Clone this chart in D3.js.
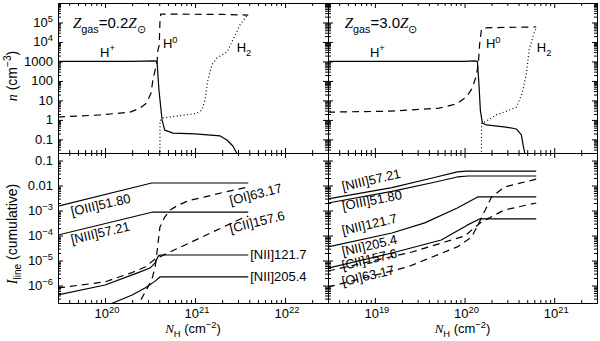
<!DOCTYPE html>
<html>
<head>
<meta charset="utf-8">
<script src="https://cdn.jsdelivr.net/npm/d3@7"></script>
<style>
body{margin:0;background:#fff;}
svg{font-family:"Liberation Sans",Arial,sans-serif;}
</style>
</head>
<body>
<svg id="chart" width="600" height="341"></svg>
<script>
// ---- data: [N_H (cm^-2), value] ----
// densities, Z = 0.2 Zsun
const hPlusLow = [[3e19,1000],[1e20,1000],[2e20,1020],[3.5e20,1080],[3.78e20,1000],[3.97e20,34],[4.3e20,1.0],[4.6e20,0.3],[5.7e20,0.21],[1.0e21,0.19],[1.9e21,0.15],[2.26e21,0.093],[2.63e21,0.046],[3.0e21,0.015]];
const h0Low = [[3e19,1.4],[8.8e19,1.8],[1.9e20,2.5],[2.44e20,4],[2.9e20,7.4],[3.24e20,24],[3.4e20,112],[3.78e20,1000],[3.87e20,3900],[4.0e20,6900],[4.07e20,1e5],[4.15e20,2.7e5],[2e21,2.6e5],[3.9e21,2.4e5]];
const h2Low = [[4.07e20,0.01],[4.08e20,0.9],[4.4e20,1.25],[1.05e21,2.2],[1.19e21,3.2],[1.29e21,10.5],[1.39e21,112],[1.54e21,660],[1.75e21,1500],[2.26e21,3000],[2.63e21,1.26e4],[3.15e21,7.4e4],[3.8e21,2.4e5]];
// densities, Z = 3.0 Zsun
const hPlusHigh = [[3e18,1000],[1e19,1000],[1e20,1020],[1.3e20,1070],[1.39e20,1000],[1.45e20,60],[1.5e20,3.2],[1.58e20,0.69],[1.75e20,0.55],[2.9e20,0.43],[3.8e20,0.34],[4.3e20,0.17],[4.5e20,0.051],[4.8e20,0.012]];
const h0High = [[3e18,2.5],[1.47e19,2.8],[5.2e19,4],[8.1e19,6.6],[1.05e20,15],[1.22e20,43],[1.36e20,200],[1.43e20,1000],[1.47e20,6900],[1.54e20,4e4],[1.6e20,5.3e4],[3e20,5.6e4],[6.3e20,5.9e4]];
const h2High = [[1.54e20,0.01],[1.55e20,0.69],[1.7e20,0.8],[2.26e20,1.8],[3.16e20,3.2],[3.8e20,4.6],[4.4e20,24],[4.9e20,250],[5.25e20,3900],[6.0e20,3.2e4],[6.4e20,5.9e4]];

// cumulative line intensities, Z = 0.2 Zsun
const oiiiLow = [[3e19,1.5e-3],[3.3e20,0.0126],[3.9e21,0.0126]];
const niiiLow = [[3e19,1.05e-4],[3.4e20,8.7e-4],[3.9e21,8.7e-4]];
const oiLow = [[2.2e20,1e-7],[2.57e20,3.2e-7],[3.3e20,1.66e-6],[3.6e20,5.5e-6],[3.78e20,2.2e-5],[4.07e20,2.2e-4],[4.6e20,5.5e-4],[5.3e20,1.05e-3],[6.5e20,1.66e-3],[8.8e20,2.6e-3],[1.29e21,3.5e-3],[2.15e21,5.5e-3],[3.9e21,8.7e-3]];
const ciiLow = [[3e19,8e-7],[1e20,1.4e-6],[2.0e20,3.3e-6],[2.78e20,5.5e-6],[3.6e20,1.15e-5],[3.2e21,4.6e-4],[3.9e21,6e-4]];
const nii122Low = [[3e19,4.2e-7],[1e20,1.05e-6],[2.3e20,3.2e-6],[3.16e20,5e-6],[3.6e20,8e-6],[3.9e20,1.5e-5],[4.1e20,1.66e-5],[3.9e21,1.66e-5]];
const nii205Low = [[9e19,1.3e-7],[1.22e20,2e-7],[2.0e20,4.2e-7],[2.78e20,8e-7],[3.6e20,1.5e-6],[4.07e20,2.2e-6],[3.9e21,2.2e-6]];
// cumulative line intensities, Z = 3.0 Zsun
const oiiiHigh = [[3e18,2e-3],[1.55e19,5.8e-3],[4.6e19,0.0135],[8.3e19,0.022],[1.1e20,0.024],[6.3e20,0.024]];
const niiiHigh = [[3e18,2.9e-3],[1.55e19,8.3e-3],[4.6e19,0.021],[8.3e19,0.035],[1.05e20,0.038],[6.3e20,0.038]];
const oiHigh = [[3e18,8.7e-7],[2.3e19,5.5e-6],[8.3e19,3.5e-5],[1.2e20,8.7e-5],[1.54e20,5e-4],[2.0e20,3.5e-3],[2.78e20,8.7e-3],[6.3e20,0.018]];
const ciiHigh = [[3e18,3.8e-6],[2.6e19,2.2e-5],[6e19,5.5e-5],[1e20,9.5e-5],[1.54e20,3.5e-4],[2.78e20,1.05e-3],[6.3e20,2e-3]];
const nii122High = [[3e18,3.5e-5],[1.55e19,1.26e-4],[3.6e19,3.2e-4],[8.3e19,1.26e-3],[1.4e20,3.5e-3],[6.3e20,3.5e-3]];
const nii205High = [[3e18,5e-6],[1.55e19,2e-5],[5.5e19,6.6e-5],[1.07e20,2.6e-4],[1.47e20,4.6e-4],[6.3e20,4.6e-4]];

// labels
const lineNames = ['[OIII]51.80','[NIII]57.21','[OI]63.17','[CII]157.6','[NII]121.7','[NII]205.4'];
const metallicities = ['0.2','3.0'];
const nTicks = [0.1,1,10,100,1000,1e4,1e5];
const nTickText = [['0.1'],['1'],['10'],['100'],['1000'],['10','4'],['10','5']];
const iTicks = [1e-6,1e-5,1e-4,1e-3,0.01,0.1];
const iTickText = [['10','\u22126'],['10','\u22125'],['10','\u22124'],['10','\u22123'],['0.01'],['0.1']];
const xTicksLow = [1e20,1e21,1e22];
const xTicksHigh = [1e19,1e20,1e21];
const xTickText = v => [['10', String(Math.round(Math.log10(v)))]];

// ---- layout ----
const svg = d3.select('#chart');
const L = 58, M = 328, R = 597, T = 3, MID = 153, B = 303;
const FS = 13;

const xLow = d3.scaleLog().domain([3e19,3e22]).range([L,M]);
const xHigh = d3.scaleLog().domain([3e18,3e21]).range([M,R]);
const yN = d3.scaleLog().domain([0.02,1e6]).range([MID,T]);
const yI = d3.scaleLog().domain([2e-7,0.2]).range([B,MID]);

function logTicks(domain){
	const maj = [], min = [];
	const k0 = Math.floor(Math.log10(domain[0])), k1 = Math.ceil(Math.log10(domain[1]));
	for(let k=k0;k<=k1;k++){
		for(let m=1;m<=9;m++){
			const v = m*Math.pow(10,k);
			if(v>=domain[0]*0.999 && v<=domain[1]*1.001){ (m===1?maj:min).push(v); }
		}
	}
	return {maj, min};
}

// text with sub/superscripts: parts = [text, mode(1 sup,-1 sub), italic]
function rich(sel, parts, size){
	let shift = 0;
	parts.forEach(p => {
		const [t, m, it] = p;
		const target = m===1 ? -0.42*size : m===-1 ? 0.3*size : 0;
		const ts = sel.append('tspan')
			.attr('dy', target-shift)
			.attr('font-size', m ? size*0.72 : size)
			.text(t);
		if(it){ ts.attr('font-style','italic').attr('font-family','"Liberation Serif",serif'); }
		shift = target;
	});
	return sel;
}

function drawAxes(x, y){
	const tx = logTicks(x.domain()), ty = logTicks(y.domain());
	const defs = [
		[d3.axisBottom, x, tx, `translate(0,${y.range()[0]})`],
		[d3.axisTop, x, tx, `translate(0,${y.range()[1]})`],
		[d3.axisLeft, y, ty, `translate(${x.range()[0]},0)`],
		[d3.axisRight, y, ty, `translate(${x.range()[1]},0)`]
	];
	defs.forEach(([axisFn, sc, t, tr]) => {
		[[t.maj,-5],[t.min,-3]].forEach(([vals,size]) => {
			svg.append('g')
				.attr('transform', tr)
				.call(axisFn(sc).tickValues(vals).tickSize(size).tickSizeOuter(0).tickFormat(''))
				.call(g => g.selectAll('text').remove())
				.call(g => g.selectAll('line,path').attr('stroke','#000').attr('stroke-width',1));
		});
	});
}

const styles = {
	solid: {dash: null, w: 1.2},
	dash: {dash: '7,5', w: 1.2},
	dot: {dash: '1,2.5', w: 1.2}
};

let clipId = 0;
function drawSeries(x, y, list){
	const id = 'clip' + (clipId++);
	svg.append('clipPath').attr('id', id)
		.append('rect')
		.attr('x', x.range()[0]).attr('y', y.range()[1])
		.attr('width', x.range()[1]-x.range()[0])
		.attr('height', y.range()[0]-y.range()[1]);
	const line = d3.line().x(d => x(d[0])).y(d => y(d[1]));
	const g = svg.append('g').attr('clip-path', `url(#${id})`);
	list.forEach(([data, st]) => {
		g.append('path')
			.attr('d', line(data))
			.attr('fill','none')
			.attr('stroke','#000')
			.attr('stroke-width', styles[st].w)
			.attr('stroke-dasharray', styles[st].dash)
			.attr('stroke-linejoin','round');
	});
}

// ---- panels ----
drawSeries(xLow, yN, [[hPlusLow,'solid'],[h0Low,'dash'],[h2Low,'dot']]);
drawSeries(xHigh, yN, [[hPlusHigh,'solid'],[h0High,'dash'],[h2High,'dot']]);
drawSeries(xLow, yI, [[oiiiLow,'solid'],[niiiLow,'solid'],[oiLow,'dash'],[ciiLow,'dash'],[nii122Low,'solid'],[nii205Low,'solid']]);
drawSeries(xHigh, yI, [[oiiiHigh,'solid'],[niiiHigh,'solid'],[oiHigh,'dash'],[ciiHigh,'dash'],[nii122High,'solid'],[nii205High,'solid']]);

drawAxes(xLow, yN);
drawAxes(xHigh, yN);
drawAxes(xLow, yI);
drawAxes(xHigh, yI);

// y tick labels (left column only)
nTicks.forEach((v,i) => {
	const parts = nTickText[i].map((t,j) => [t, j ? 1 : 0]);
	rich(svg.append('text').attr('x', L-5).attr('y', yN(v)+4.5).attr('text-anchor','end'), parts, FS);
});
iTicks.forEach((v,i) => {
	const parts = iTickText[i].map((t,j) => [t, j ? 1 : 0]);
	rich(svg.append('text').attr('x', L-5).attr('y', yI(v)+4.5).attr('text-anchor','end'), parts, FS);
});

// x tick labels
[[xLow,xTicksLow],[xHigh,xTicksHigh]].forEach(([x,ticks]) => {
	ticks.forEach(v => {
		const parts = xTickText(v)[0].map((t,j) => [t, j ? 1 : 0]);
		rich(svg.append('text').attr('x', x(v)+2).attr('y', 318).attr('text-anchor','middle'), parts, FS);
	});
	rich(svg.append('text')
		.attr('x', (x.range()[0]+x.range()[1])/2).attr('y', 333).attr('text-anchor','middle'),
		[['N',0,true],['H',-1],[' (cm',0],['\u22122',1],[')',0]], FS);
});

// y axis titles
rich(svg.append('text').attr('transform', `translate(17,76) rotate(-90)`).attr('text-anchor','middle'),
	[['n',0,true],[' (cm',0],['\u22123',1],[')',0]], FS+1);
rich(svg.append('text').attr('transform', `translate(17,234) rotate(-90)`).attr('text-anchor','middle'),
	[['I',0,true],['line',-1],[' (cumulative)',0]], FS+1);

// species labels in the density panels, anchored in data space
const speciesLabels = [
	{x: xLow, n: [4.4e19, 8.8e19, 4.4e20, 2.9e21], z: metallicities[0]},
	{x: xHigh, n: [4.6e18, 8.8e18, 1.73e20, 6.4e20], z: metallicities[1]}
];
speciesLabels.forEach(s => {
	rich(svg.append('text').attr('x', s.x(s.n[0])).attr('y', yN(5.2e4)),
		[['Z',0,true],['gas',-1],['=' + s.z,0],['Z',0,true],['\u2299',-1]], FS+2);
	rich(svg.append('text').attr('x', s.x(s.n[1])).attr('y', yN(1.7e3)), [['H',0],['+',1]], FS);
	rich(svg.append('text').attr('x', s.x(s.n[2])).attr('y', yN(4.9e3)), [['H',0],['0',1]], FS);
	rich(svg.append('text').attr('x', s.x(s.n[3])).attr('y', yN(3.1e3)), [['H',0],['2',-1]], FS);
});

// line labels: [N, I, angle] in lineNames order
const lineLabelAnchorsLow = [[4.3e19,6.0e-4,-13],[4.3e19,4.6e-5,-13],[2.5e21,1.66e-3,-14],[2.5e21,1.26e-4,-14],[4.1e21,1.15e-5,0],[4.1e21,1.5e-6,0]];
const lineLabelAnchorsHigh = [[4.4e18,1.0e-3,-11],[4.4e18,6.0e-3,-13],[4.4e18,9.6e-7,-13],[4.4e18,4.2e-6,-13],[4.4e18,1.05e-4,-13],[4.4e18,1.5e-5,-13]];
[[xLow,lineLabelAnchorsLow],[xHigh,lineLabelAnchorsHigh]].forEach(([x,anchors]) => {
	anchors.forEach((a,i) => {
		svg.append('text')
			.attr('transform', `translate(${x(a[0])},${yI(a[1])}) rotate(${a[2]})`)
			.attr('font-size', FS)
			.text(lineNames[i]);
	});
});
</script>
</body>
</html>
